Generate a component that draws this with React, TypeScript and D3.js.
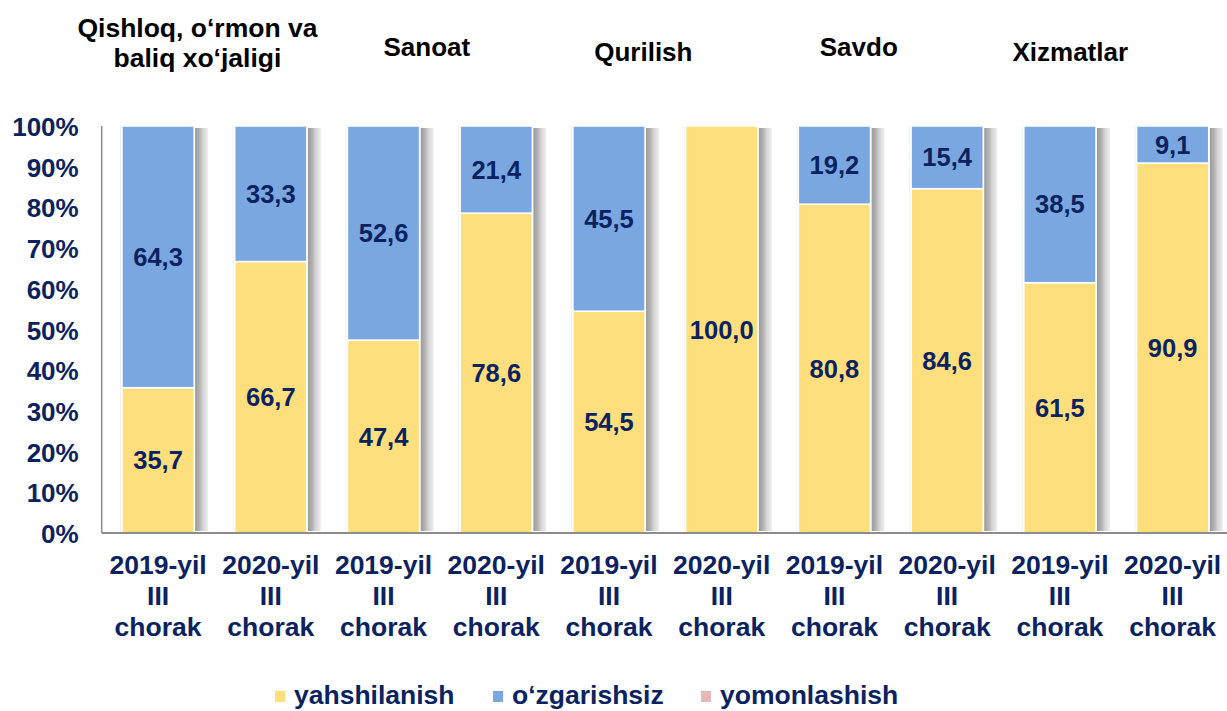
import React from 'react';
import * as d3 from 'd3';

const categories = [
  '2019-yil III chorak', '2020-yil III chorak',
  '2019-yil III chorak', '2020-yil III chorak',
  '2019-yil III chorak', '2020-yil III chorak',
  '2019-yil III chorak', '2020-yil III chorak',
  '2019-yil III chorak', '2020-yil III chorak',
];
const groupTitles = [
  ['Qishloq, o‘rmon va', 'baliq xo‘jaligi'],
  ['Sanoat'],
  ['Qurilish'],
  ['Savdo'],
  ['Xizmatlar'],
];
const yahshilanish = [35.7, 66.7, 47.4, 78.6, 54.5, 100.0, 80.8, 84.6, 61.5, 90.9];
const ozgarishsiz = [64.3, 33.3, 52.6, 21.4, 45.5, 0, 19.2, 15.4, 38.5, 9.1];
const yomonlashish = [0, 0, 0, 0, 0, 0, 0, 0, 0, 0];
const seriesNames = ['yahshilanish', 'o‘zgarishsiz', 'yomonlashish'];
const yTicks = [0, 10, 20, 30, 40, 50, 60, 70, 80, 90, 100];

const width = 1227;
const height = 711;
const margin = { top: 126, right: -2, bottom: 178, left: 101.7 };
const colors = ['#FFDE7E', '#7AA7DF', '#E6B9B8'];
const navy = '#0A2360';
const font = 'Arial, "Liberation Sans", sans-serif';
// title nudges, the text boxes in the original are not centred on the pairs
const titleShift = [-17, -13, -22, -32, -46];
const titleY = [[28, 58], [47], [52], [47], [52]];
const legendX = [275, 493, 701];

const App = () => {
  const idx = categories.map((_, i) => String(i));
  const rows = idx.map((k, i) => ({
    key: k,
    a: yahshilanish[i],
    b: ozgarishsiz[i],
    c: yomonlashish[i],
  }));
  const stacked = d3.stack<any>().keys(['a', 'b', 'c'])(rows);

  const innerW = width - margin.left - margin.right;
  const innerH = height - margin.top - margin.bottom;
  const x = d3.scaleBand().domain(idx).range([0, innerW]).paddingInner(0.36).paddingOuter(0.18);
  const y = d3.scaleLinear().domain([0, 100]).range([innerH, 0]);
  const bw = x.bandwidth();

  return (
    <svg width={width} height={height} style={{ position: 'absolute', left: 0, top: 0, background: '#fff' }}
      fontFamily={font} fontWeight="bold">
      <defs>
        <linearGradient id="shadow" x1="0" x2="1" y1="0" y2="0">
          <stop offset="0" stopColor="#9a9a9a" />
          <stop offset="0.35" stopColor="#b4b4b4" />
          <stop offset="0.6" stopColor="#d4d4d4" />
          <stop offset="1" stopColor="#efefef" />
        </linearGradient>
      </defs>
      {groupTitles.map((lines, g) => {
        const cx = margin.left + (x(idx[g * 2 + 1]) as number) - (x.step() - bw) / 2 + titleShift[g];
        return lines.map((t, j) => (
          <text key={g + '-' + j} x={cx} y={titleY[g][j]} textAnchor="middle" dominantBaseline="central"
            fontSize={g === 0 ? 26.5 : 26} fill="#000">{t}</text>
        ));
      })}
      <g transform={`translate(${margin.left},${margin.top})`}>
        {idx.map(k => (
          <g key={'sh' + k}>
            <rect x={(x(k) as number) + bw + 1} y={2} width={13} height={innerH - 4} fill="url(#shadow)" />
            <rect x={(x(k) as number) - 2} y={0} width={1} height={innerH} fill="#f0f0f0" />
          </g>
        ))}
        {stacked.map((s, si) => (
          <g key={s.key} fill={colors[si]}>
            {s.map((d, i) => d[1] - d[0] > 0 ? (
              <rect key={i} x={x(idx[i])} y={y(d[1])} width={bw} height={y(d[0]) - y(d[1])}
                stroke="#fff" strokeWidth={1.5} />
            ) : null)}
          </g>
        ))}
        {stacked.slice(0, 2).map(s => s.map((d, i) => d[1] - d[0] > 0 ? (
          <text key={s.key + i} x={(x(idx[i]) as number) + bw / 2} y={y((d[0] + d[1]) / 2)}
            textAnchor="middle" dominantBaseline="central" fontSize={25.5} fill={navy}>
            {d3.format('.1f')(d[1] - d[0]).replace('.', ',')}
          </text>
        ) : null))}
        <line x1={0} x2={0} y1={0} y2={innerH} stroke="#8c8c8c" strokeWidth={1.5} />
        <line x1={0} x2={innerW} y1={innerH} y2={innerH} stroke="#8c8c8c" strokeWidth={2} />
        {yTicks.map(t => (
          <text key={t} x={-23} y={y(t) + 1} textAnchor="end" dominantBaseline="central" fontSize={26} fill={navy}>
            {t}%
          </text>
        ))}
        {categories.map((c, i) => {
          const parts = [c.slice(0, 8), 'III', 'chorak'];
          return parts.map((p, j) => (
            <text key={i + '-' + j} x={(x(idx[i]) as number) + bw / 2} y={innerH + 32 + j * 31}
              textAnchor="middle" dominantBaseline="central" fontSize={26.5} fill={navy}>{p}</text>
          ));
        })}
      </g>
      <g>
        {seriesNames.map((n, i) => (
          <g key={n}>
            <rect x={legendX[i]} y={691} width={10} height={11} fill={colors[i]} />
            <text x={legendX[i] + 19} y={704} fontSize={26.5} fill={navy}>{n}</text>
          </g>
        ))}
      </g>
    </svg>
  );
};

export default App;
